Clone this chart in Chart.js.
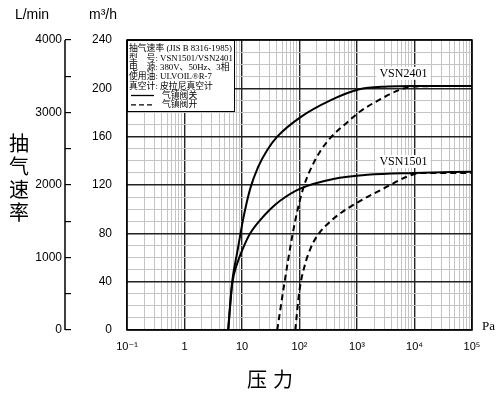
<!DOCTYPE html>
<html>
<head>
<meta charset="utf-8">
<script src="https://cdn.jsdelivr.net/npm/chart.js@4.4.0/dist/chart.umd.min.js"></script>
<style>
  html, body { margin: 0; padding: 0; background: #fff; }
</style>
</head>
<body>
<canvas id="pump-chart" width="500" height="395"></canvas>
<script>
// pressure (Pa) vs pumping speed (m3/h)
var p2401Closed = [5.75, 6.75, 8.25, 10.5, 13.9, 19.1, 27.5, 41, 103, 344, 1057, 3390, 9550, 100000];
var s2401Closed = [0, 40, 64, 92, 117, 135, 149, 160, 176, 190, 199, 201.5, 202, 202];

var p1501Closed = [5.75, 6.75, 8.25, 10.5, 13.9, 20.7, 31, 46, 103, 388, 1520, 9550, 100000];
var s1501Closed = [0, 38, 55, 68, 80, 91, 100, 107, 117, 125, 128.5, 130, 131];

var p2401Open = [41, 54.3, 75, 95.3, 121, 167, 230, 344, 681, 1146, 2557, 5700, 9550, 100000];
var s2401Open = [0, 38, 78, 102, 120, 136, 148, 159, 172, 181, 191, 199, 201.5, 202];

var p1501Open = [84.5, 99.3, 121, 154, 204, 388, 1015, 2880, 7550, 12700, 100000];
var s1501Open = [0, 32, 52, 67, 78, 92, 105.5, 117, 127, 130, 130];

var speedTicks = [0, 40, 80, 120, 160, 200, 240];
var flowTicks = [0, 1000, 2000, 3000, 4000];
var pressureLabels = {'-1': '10\u207B\u00B9', '0': '1', '1': '10', '2': '10\u00B2', '3': '10\u00B3', '4': '10\u2074', '5': '10\u2075'};

var legendLines = [
    '抽气速率 (JIS B 8316-1985)',
    '型　号: VSN1501/VSN2401',
    '电　源: 380V、50Hz、3相',
    '使用油: ULVOIL®R-7',
    '真空计: 皮拉尼真空计'
];

function toPoints(px, py) {
    return px.map(function(p, i) { return {x: p, y: py[i]}; });
}

function isDecade(v) {
    var l = Math.log10(v);
    return Math.abs(l - Math.round(l)) < 1e-6;
}

var sansFont = '"Liberation Sans", "DejaVu Sans", sans-serif';
var serifFont = '"Liberation Serif", "DejaVu Serif", "Noto Sans CJK SC", serif';
var cjkFont = '"Noto Sans CJK SC", sans-serif';

var curve = function(label, px, py, dashed) {
    return {
        label: label,
        data: toPoints(px, py),
        borderColor: '#000',
        borderWidth: 2,
        borderDash: dashed ? [6, 4] : [],
        pointRadius: 0,
        fill: false,
        cubicInterpolationMode: 'monotone',
        xAxisID: 'x',
        yAxisID: 'y'
    };
};

var extras = {
    id: 'extras',
    beforeDatasetsDraw: function(chart) {
        var ctx = chart.ctx, a = chart.chartArea;
        ctx.save();
        // L/min axis line
        var yl = chart.scales.yL;
        var lx = yl.right - 6;
        ctx.strokeStyle = '#000';
        ctx.lineWidth = 1.5;
        ctx.beginPath();
        ctx.moveTo(lx, yl.getPixelForValue(4000));
        ctx.lineTo(lx, yl.getPixelForValue(0));
        ctx.stroke();
        // frame
        ctx.lineWidth = 1.5;
        ctx.strokeRect(a.left, a.top, a.right - a.left, a.bottom - a.top);
        ctx.restore();
    },
    afterDatasetsDraw: function(chart) {
        var ctx = chart.ctx, a = chart.chartArea;
        var xs = chart.scales.x, ys = chart.scales.y;
        ctx.save();
        ctx.fillStyle = '#000';

        // legend box
        var bx = a.left, by = a.top, bw = 107, bh = 71;
        ctx.fillStyle = '#fff';
        ctx.fillRect(bx, by, bw, bh);
        ctx.strokeStyle = '#000';
        ctx.lineWidth = 1;
        ctx.strokeRect(bx + 0.5, by + 0.5, bw, bh);
        ctx.fillStyle = '#000';
        ctx.font = '8.8px ' + serifFont;
        ctx.textAlign = 'left';
        ctx.textBaseline = 'middle';
        legendLines.forEach(function(t, i) {
            ctx.fillText(t, bx + 2, by + 9 + i * 9.3);
        });
        var ly1 = by + 9 + 5 * 9.3, ly2 = by + 9 + 6 * 9.3;
        ctx.lineWidth = 1.3;
        ctx.beginPath();
        ctx.moveTo(bx + 4, ly1); ctx.lineTo(bx + 27, ly1); ctx.stroke();
        ctx.setLineDash([5, 3]);
        ctx.beginPath();
        ctx.moveTo(bx + 4, ly2); ctx.lineTo(bx + 27, ly2); ctx.stroke();
        ctx.setLineDash([]);
        ctx.fillText('气镇阀关', bx + 35, ly1);
        ctx.fillText('气镇阀开', bx + 35, ly2);

        // curve labels
        ctx.font = '12px ' + serifFont;
        ctx.textAlign = 'center';
        [['VSN2401', 3000, 212], ['VSN1501', 3000, 139]].forEach(function(l) {
            var x = xs.getPixelForValue(l[1]) + 19, y = ys.getPixelForValue(l[2]);
            var w = ctx.measureText(l[0]).width + 6;
            ctx.fillStyle = '#fff';
            ctx.fillRect(x - w / 2, y - 7, w, 13);
            ctx.fillStyle = '#000';
            ctx.fillText(l[0], x, y);
        });

        // Pa unit
        ctx.font = '13px ' + serifFont;
        ctx.textAlign = 'left';
        ctx.fillText('Pa', a.right + 10, a.bottom - 3);

        // axis titles
        ctx.font = '14px ' + sansFont;
        ctx.textAlign = 'center';
        ctx.fillText('L/min', 32, 15);
        ctx.fillText('m\u00B3/h', 103, 15);

        ctx.font = '20px ' + cjkFont;
        ctx.fillText('压', 257, 379);
        ctx.fillText('力', 283, 379);
        '抽气速率'.split('').forEach(function(ch, i) {
            ctx.fillText(ch, 19, 143 + i * 23);
        });
        ctx.restore();
    }
};

var ctx = document.getElementById('pump-chart').getContext('2d');
var myChart = new Chart(ctx, {
    type: 'line',
    data: {
        datasets: [
            curve('VSN2401 气镇阀关', p2401Closed, s2401Closed, false),
            curve('VSN1501 气镇阀关', p1501Closed, s1501Closed, false),
            curve('VSN2401 气镇阀开', p2401Open, s2401Open, true),
            curve('VSN1501 气镇阀开', p1501Open, s1501Open, true)
        ]
    },
    options: {
        responsive: false,
        animation: false,
        events: [],
        layout: { padding: { top: 40, right: 28, bottom: 0, left: 0 } },
        plugins: { legend: { display: false }, tooltip: { enabled: false } },
        scales: {
            x: {
                type: 'logarithmic',
                min: 0.1,
                max: 100000,
                afterBuildTicks: function(scale) {
                    var t = [];
                    for (var e = -1; e <= 4; e++) {
                        for (var m = 1; m <= 9; m++) t.push({value: m * Math.pow(10, e)});
                    }
                    t.push({value: 100000});
                    scale.ticks = t;
                },
                afterFit: function(scale) { scale.height = 65; },
                grid: {
                    drawTicks: false,
                    color: function(c) { return isDecade(c.tick.value) ? '#222' : '#c4c4c4'; },
                    lineWidth: function(c) { return isDecade(c.tick.value) ? 1.4 : 1; }
                },
                border: { display: false },
                ticks: {
                    autoSkip: false,
                    maxRotation: 0,
                    padding: 10,
                    color: '#000',
                    font: { family: sansFont, size: 11 },
                    callback: function(v) {
                        if (!isDecade(v)) return '';
                        return pressureLabels[String(Math.round(Math.log10(v)))];
                    }
                }
            },
            y: {
                position: 'left',
                weight: 0,
                min: 0,
                max: 240,
                afterFit: function(scale) { scale.width = 56; },
                grid: {
                    drawTicks: false,
                    color: function(c) { return speedTicks.indexOf(c.tick.value) >= 0 ? '#222' : '#c4c4c4'; },
                    lineWidth: function(c) { return speedTicks.indexOf(c.tick.value) >= 0 ? 1.4 : 1; }
                },
                border: { display: false },
                ticks: {
                    stepSize: 10,
                    autoSkip: false,
                    padding: 15,
                    color: '#000',
                    font: { family: sansFont, size: 12 },
                    callback: function(v) { return speedTicks.indexOf(v) >= 0 ? v : ''; }
                }
            },
            yL: {
                position: 'left',
                weight: 10,
                min: 0,
                max: 4000,
                afterFit: function(scale) { scale.width = 71; },
                grid: {
                    drawOnChartArea: false,
                    tickLength: 6,
                    color: '#000',
                    lineWidth: 1.2
                },
                border: { display: false },
                ticks: {
                    stepSize: 500,
                    autoSkip: false,
                    padding: 3,
                    color: '#000',
                    font: { family: sansFont, size: 12 },
                    callback: function(v) { return flowTicks.indexOf(v) >= 0 ? v : ''; }
                }
            }
        }
    },
    plugins: [extras]
});
</script>
</body>
</html>
